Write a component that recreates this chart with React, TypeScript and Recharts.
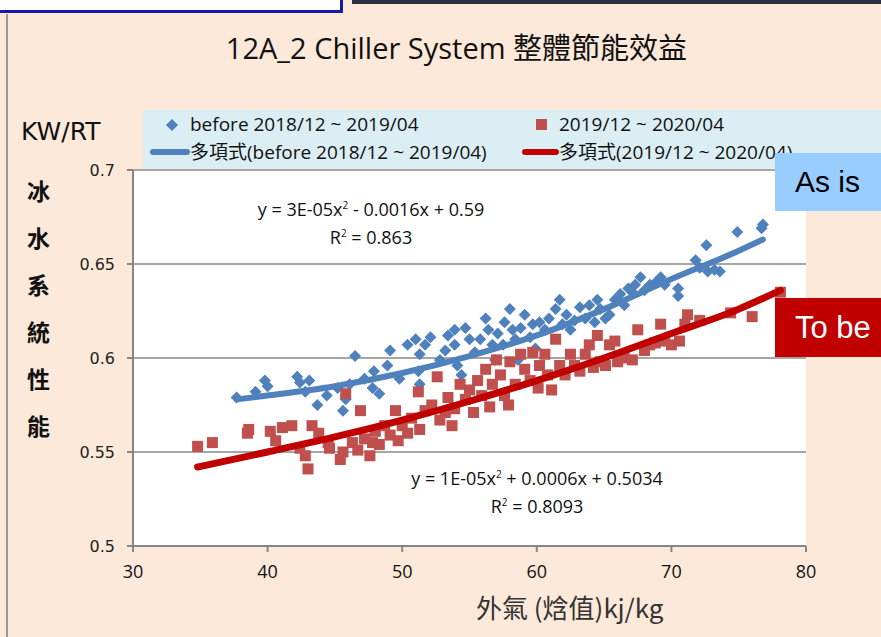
import React from 'react';
import { CartesianGrid, Scatter, ScatterChart, XAxis, YAxis } from 'recharts';

// before 2018/12 ~ 2019/04 : [enthalpy kj/kg, KW/RT]
const beforePoints: [number, number][] = [
  [37.7, 0.579], [39.1, 0.582], [39.8, 0.588], [40.0, 0.585], [42.2, 0.59], [42.4, 0.587],
  [43.1, 0.588], [42.8, 0.582], [43.7, 0.575], [44.4, 0.58], [45.2, 0.584], [45.6, 0.572],
  [45.8, 0.578], [46.5, 0.601], [46.1, 0.586], [47.2, 0.589], [47.8, 0.584], [47.9, 0.593],
  [48.3, 0.581], [49.1, 0.604], [48.9, 0.596], [49.8, 0.589], [50.4, 0.607], [51.0, 0.61],
  [51.2, 0.593], [51.3, 0.586], [51.3, 0.602], [51.7, 0.607], [52.1, 0.611], [52.8, 0.599],
  [53.2, 0.604], [53.4, 0.612], [53.9, 0.615], [53.9, 0.607], [54.1, 0.596], [54.4, 0.591],
  [54.7, 0.616], [55.0, 0.61], [55.4, 0.603], [55.8, 0.61], [56.2, 0.621], [56.4, 0.615],
  [56.7, 0.607], [56.9, 0.599], [57.1, 0.613], [57.5, 0.607], [57.6, 0.619], [58.0, 0.626],
  [58.2, 0.615], [58.4, 0.61], [58.6, 0.599], [58.8, 0.616], [59.1, 0.623], [59.5, 0.611],
  [59.7, 0.618], [59.9, 0.605], [60.2, 0.619], [60.6, 0.615], [60.9, 0.621], [61.4, 0.626],
  [61.7, 0.631], [61.9, 0.618], [62.2, 0.623], [62.5, 0.615], [62.8, 0.62], [63.2, 0.627],
  [63.6, 0.621], [63.9, 0.628], [64.3, 0.619], [64.5, 0.631], [64.7, 0.626], [65.1, 0.621],
  [65.4, 0.623], [65.8, 0.631], [66.2, 0.634], [66.5, 0.628], [66.8, 0.637], [67.1, 0.635],
  [67.3, 0.639], [67.7, 0.643], [68.0, 0.636], [68.4, 0.639], [68.8, 0.64], [69.2, 0.643],
  [69.5, 0.639], [70.5, 0.637], [70.5, 0.633], [71.8, 0.652], [72.1, 0.648], [72.6, 0.66],
  [72.7, 0.646], [73.2, 0.647], [73.6, 0.646], [74.9, 0.667], [76.7, 0.669], [76.8, 0.671],
];

// 2019/12 ~ 2020/04
const afterPoints: [number, number][] = [
  [34.8, 0.553], [35.9, 0.555], [38.5, 0.56], [38.6, 0.562], [40.2, 0.561], [40.6, 0.556],
  [41.1, 0.563], [41.8, 0.564], [42.4, 0.552], [42.8, 0.548], [43.0, 0.541], [43.3, 0.564],
  [43.8, 0.56], [44.5, 0.555], [44.6, 0.552], [45.4, 0.546], [45.6, 0.55], [45.8, 0.581],
  [46.3, 0.555], [46.7, 0.551], [46.9, 0.572], [47.2, 0.557], [47.6, 0.548], [47.8, 0.555],
  [48.0, 0.561], [48.3, 0.554], [48.7, 0.564], [49.1, 0.559], [49.5, 0.572], [49.7, 0.556],
  [50.0, 0.564], [50.4, 0.56], [50.7, 0.568], [51.2, 0.582], [51.3, 0.562], [51.7, 0.572],
  [52.2, 0.575], [52.6, 0.59], [52.8, 0.567], [53.2, 0.571], [53.4, 0.579], [53.7, 0.564],
  [53.9, 0.573], [54.3, 0.586], [54.7, 0.578], [55.0, 0.583], [55.3, 0.571], [55.6, 0.588],
  [55.9, 0.58], [56.2, 0.594], [56.5, 0.574], [56.7, 0.586], [57.0, 0.599], [57.3, 0.591],
  [57.6, 0.58], [57.9, 0.575], [58.0, 0.598], [58.4, 0.586], [58.8, 0.602], [59.1, 0.594],
  [59.5, 0.588], [59.7, 0.603], [60.1, 0.584], [60.2, 0.596], [60.6, 0.602], [60.8, 0.591],
  [61.1, 0.583], [61.4, 0.61], [61.7, 0.596], [62.1, 0.591], [62.5, 0.602], [62.8, 0.596],
  [63.2, 0.593], [63.6, 0.602], [63.9, 0.607], [64.2, 0.595], [64.5, 0.612], [64.7, 0.598],
  [65.1, 0.596], [65.4, 0.607], [65.8, 0.609], [66.0, 0.598], [66.5, 0.6], [67.1, 0.599],
  [67.5, 0.615], [68.0, 0.604], [68.4, 0.607], [68.8, 0.608], [69.2, 0.618], [69.5, 0.609],
  [70.0, 0.607], [70.6, 0.609], [71.0, 0.618], [71.2, 0.623], [72.1, 0.62], [74.4, 0.624],
  [76.0, 0.622], [78.1, 0.635],
];

// 多項式 trend lines
const beforeTrend: [number, number][] = [
  [37.7, 0.578], [40, 0.58], [45, 0.585], [50, 0.592], [55, 0.601], [60, 0.612],
  [65, 0.626], [70, 0.642], [75, 0.657], [76.8, 0.663],
];
const afterTrend: [number, number][] = [
  [34.8, 0.542], [40, 0.55], [45, 0.558], [50, 0.567], [55, 0.577], [60, 0.588],
  [65, 0.6], [70, 0.613], [75, 0.626], [78.1, 0.636],
];

const xTicks = [30, 40, 50, 60, 70, 80];
const yTicks = [0.5, 0.55, 0.6, 0.65, 0.7];
const yLabelChars = ['冰', '水', '系', '統', '性', '能'];

const toRows = (pts: [number, number][]) => pts.map(([x, y]) => ({ x, y }));

const BLUE = '#4f81bd';
const RED = '#c0504d';
const DARK_RED = '#c00000';
const TEXT_FONT = "'Open Sans', 'Noto Sans CJK TC', sans-serif";

const Diamond = (props: any) => {
  const { cx, cy } = props;
  if (cx == null || cy == null) return <g />;
  const r = 6;
  return <path d={`M${cx},${cy - r}L${cx + r},${cy}L${cx},${cy + r}L${cx - r},${cy}Z`} fill={BLUE} />;
};

const Square = (props: any) => {
  const { cx, cy } = props;
  if (cx == null || cy == null) return <g />;
  const s = 11;
  return <rect x={cx - s / 2} y={cy - s / 2} width={s} height={s} fill={RED} />;
};

const NoDot = () => <g />;

const abs = (style: React.CSSProperties): React.CSSProperties => ({ position: 'absolute', ...style });

const legendText: React.CSSProperties = { fontFamily: TEXT_FONT, fontSize: 19, color: '#111', whiteSpace: 'nowrap' };
const eqText: React.CSSProperties = { textAlign: 'center', fontFamily: TEXT_FONT, fontSize: 18, color: '#111', whiteSpace: 'nowrap' };

export default function App() {
  return (
    <div style={abs({ left: 0, top: 0, width: 881, height: 637, background: '#fde9d9', overflow: 'hidden' })}>
      {/* slide frame bits */}
      <div style={abs({ left: 0, top: 0, width: 340, height: 10, background: '#fff', borderRight: '3px solid #1a1aa8', borderBottom: '3px solid #1a1aa8' })} />
      <div style={abs({ left: 352, top: 0, width: 529, height: 4, background: '#2a3040' })} />
      <div style={abs({ left: 6, top: 14, width: 2, height: 623, background: '#9a9a9a' })} />

      {/* TITLE */}
      <div style={abs({ left: 16, width: 881, top: 25, textAlign: 'center', fontFamily: TEXT_FONT, fontSize: 29, color: '#111', whiteSpace: 'nowrap' })}>
        12A_2 Chiller System 整體節能效益
      </div>

      {/* LEGEND */}
      <div style={abs({ left: 143, top: 110, width: 738, height: 58, background: '#dbeef3' })} />
      <svg style={abs({ left: 0, top: 0 })} width={881} height={170}>
        <path d="M172,119L178,125L172,131L166,125Z" fill={BLUE} />
        <rect x={536} y={119} width={11} height={11} fill={RED} />
        <line x1={153} y1={152} x2={187} y2={152} stroke={BLUE} strokeWidth={6} strokeLinecap="round" />
        <line x1={525} y1={152} x2={556} y2={152} stroke={DARK_RED} strokeWidth={6} strokeLinecap="round" />
      </svg>
      <div style={abs({ left: 190, top: 111, ...legendText })}>before 2018/12 ~ 2019/04</div>
      <div style={abs({ left: 559, top: 111, ...legendText })}>2019/12 ~ 2020/04</div>
      <div style={abs({ left: 190, top: 137, ...legendText })}>多項式(before 2018/12 ~ 2019/04)</div>
      <div style={abs({ left: 559, top: 137, ...legendText })}>多項式(2019/12 ~ 2020/04)</div>

      {/* CHART */}
      <div style={abs({ left: 0, top: 0 })}>
        <ScatterChart width={881} height={637} margin={{ top: 170, right: 75, bottom: 61, left: 73 }}>
          <CartesianGrid vertical={false} fill="#ffffff" stroke="#a6a6a6" strokeWidth={2} />
          <XAxis
            type="number"
            dataKey="x"
            domain={[30, 80]}
            ticks={xTicks}
            height={30}
            tickSize={6}
            tickMargin={13}
            stroke="#868686"
            strokeWidth={2}
            tick={{ fontSize: 18, fill: '#111', fontFamily: TEXT_FONT }}
            allowDataOverflow
          />
          <YAxis
            type="number"
            dataKey="y"
            domain={[0.5, 0.7]}
            ticks={yTicks}
            width={60}
            tickSize={6}
            tickMargin={12}
            stroke="#868686"
            strokeWidth={2}
            tick={{ fontSize: 16, fill: '#222', fontFamily: "'DejaVu Sans', sans-serif" }}
            allowDataOverflow
          />
          <Scatter data={toRows(beforePoints)} shape={Diamond} isAnimationActive={false} />
          <Scatter
            data={toRows(beforeTrend)}
            shape={NoDot}
            line={{ stroke: BLUE, strokeWidth: 6, strokeLinecap: 'round' }}
            lineJointType="monotoneX"
            isAnimationActive={false}
          />
          <Scatter data={toRows(afterPoints)} shape={Square} isAnimationActive={false} />
          <Scatter
            data={toRows(afterTrend)}
            shape={NoDot}
            line={{ stroke: DARK_RED, strokeWidth: 7, strokeLinecap: 'round' }}
            lineJointType="monotoneX"
            isAnimationActive={false}
          />
        </ScatterChart>
      </div>

      {/* trend equations */}
      <div style={abs({ left: 221, width: 300, top: 193, lineHeight: '24px', ...eqText })}>
        y = 3E-05x<sup style={{ fontSize: 10 }}>2</sup> - 0.0016x + 0.59
        <br />R<sup style={{ fontSize: 10 }}>2</sup> = 0.863
      </div>
      <div style={abs({ left: 387, width: 300, top: 462, lineHeight: '24px', ...eqText })}>
        y = 1E-05x<sup style={{ fontSize: 10 }}>2</sup> + 0.0006x + 0.5034
        <br />R<sup style={{ fontSize: 10 }}>2</sup> = 0.8093
      </div>

      {/* AXIS TITLES */}
      <div style={abs({ left: 21, top: 117, fontFamily: "'DejaVu Sans', sans-serif", fontSize: 25, color: '#111' })}>KW/RT</div>
      {yLabelChars.map((c, i) => (
        <div
          key={c}
          style={abs({ left: 27, top: 173 + i * 47, fontFamily: "'Noto Sans CJK TC', sans-serif", fontSize: 23, fontWeight: 700, color: '#111' })}
        >
          {c}
        </div>
      ))}
      <div style={abs({ left: 476, top: 588, fontFamily: "'Noto Sans CJK TC', sans-serif", fontSize: 26, color: '#333', whiteSpace: 'nowrap' })}>
        外氣 (焓值)kj/kg
      </div>

      {/* As is / To be tags */}
      <div style={abs({ left: 775, top: 153, width: 106, height: 58, background: '#99ccff', color: '#000', fontFamily: "'Liberation Sans', Arial, sans-serif", fontSize: 30, lineHeight: '58px', paddingLeft: 20, boxSizing: 'border-box' })}>
        As is
      </div>
      <div style={abs({ left: 775, top: 298, width: 106, height: 59, background: DARK_RED, color: '#fff', fontFamily: "'Liberation Sans', Arial, sans-serif", fontSize: 31, lineHeight: '59px', paddingLeft: 20, boxSizing: 'border-box' })}>
        To be
      </div>
    </div>
  );
}
